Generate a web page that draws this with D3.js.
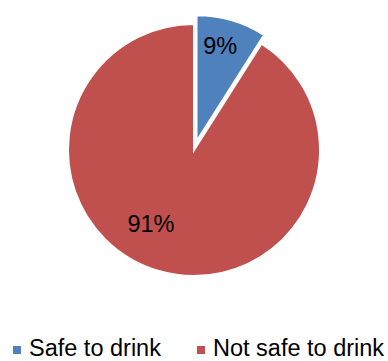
<!DOCTYPE html>
<html>
<head>
<meta charset="utf-8">
<script src="https://cdn.jsdelivr.net/npm/d3@7"></script>
<style>
  body { margin: 0; background: #fff; }
  text { font-family: "Liberation Sans", Arial, sans-serif; }
</style>
</head>
<body>
<div id="chart"></div>
<script>
var categories = ["Safe to drink", "Not safe to drink"];
var values = [9, 91];
var labels = ["9%", "91%"];
var colors = ["#4F81BD", "#C0504D"];

var width = 388, height = 361;
var cx = 194, cy = 150, radius = 126;
var explode = [9, 0];

var svg = d3.select("#chart").append("svg")
    .attr("width", width)
    .attr("height", height);

var pie = d3.pie().sort(null).value(function (d) { return d; });
var arcs = pie(values);
var arc = d3.arc().innerRadius(0).outerRadius(radius);

var g = svg.append("g").attr("transform", "translate(" + cx + "," + cy + ")");

var slice = g.selectAll("g.slice")
    .data(arcs)
    .enter().append("g")
    .attr("class", "slice")
    .attr("transform", function (d, i) {
        var mid = (d.startAngle + d.endAngle) / 2;
        return "translate(" + (Math.sin(mid) * explode[i]) + "," + (-Math.cos(mid) * explode[i]) + ")";
    });

slice.append("path")
    .attr("d", arc)
    .style("fill", function (d, i) { return colors[i]; })
    .style("stroke", "#fff")
    .style("stroke-width", 2);

// label placement: fraction of radius, and angle shift (degrees) from slice middle
var labelR = [0.78, 0.68];
var labelShift = [-2.3, 14];
slice.append("text")
    .attr("x", function (d, i) {
        var a = (d.startAngle + d.endAngle) / 2 + labelShift[i] * Math.PI / 180;
        return Math.sin(a) * radius * labelR[i];
    })
    .attr("y", function (d, i) {
        var a = (d.startAngle + d.endAngle) / 2 + labelShift[i] * Math.PI / 180;
        return -Math.cos(a) * radius * labelR[i];
    })
    .attr("dy", "0.35em")
    .attr("text-anchor", "middle")
    .style("font-size", "23.5px")
    .style("fill", "#000")
    .text(function (d, i) { return labels[i]; });

// legend
var legendX = [13, 197];
var legend = svg.append("g").attr("class", "legend");
var item = legend.selectAll("g")
    .data(categories)
    .enter().append("g")
    .attr("transform", function (d, i) { return "translate(" + legendX[i] + ",356)"; });
item.append("rect")
    .attr("x", 0).attr("y", -10)
    .attr("width", 8).attr("height", 8)
    .style("fill", function (d, i) { return colors[i]; });
item.append("text")
    .attr("x", 16)
    .style("font-size", "23.5px")
    .style("fill", "#000")
    .text(function (d) { return d; });
</script>
</body>
</html>
